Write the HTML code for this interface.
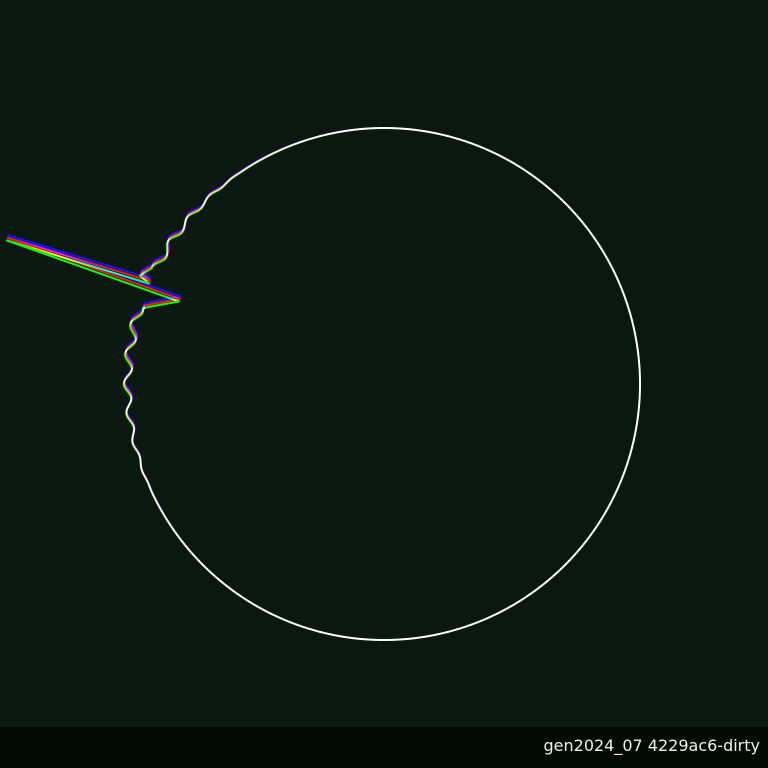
<!DOCTYPE html>
<html><head><meta charset="utf-8">
<style>
html,body{margin:0;padding:0;background:#0a1810;width:768px;height:768px;overflow:hidden}
#footer{position:absolute;left:0;top:727px;width:768px;height:41px;background:#020a04}
#label{position:absolute;right:8px;top:9px;color:#f0f0f0;font:16px "DejaVu Sans","Liberation Sans",sans-serif}
svg{position:absolute;left:0;top:0}
</style></head>
<body>
<svg id="chart" width="768" height="727"></svg>
<div id="footer"><span id="label">gen2024_07 4229ac6-dirty</span></div>
<script>
const center=[384,384];
const baseRadius=[256];
const waveRange=[124,205];
const waveAmp=[4.5];
const waveCycles=[12];
const spikeAngles=[153,162];
const spikeTip=[[141,273],[150,281],[8,238],[180,299],[152,304]];
const channels=['#0000ff','#ff0000','#00ff00'];
const channelShift=[[0.5,-2.5],[0,0],[-1,2.5]];
const ns='http://www.w3.org/2000/svg';
const svg=document.getElementById('chart');
function pt(deg){
  const t=deg*Math.PI/180;
  let r=baseRadius[0];
  if(deg>waveRange[0]&&deg<waveRange[1]){
    const u=(deg-waveRange[0])/(waveRange[1]-waveRange[0]);
    r+=waveAmp[0]*Math.sin(Math.PI*u)*Math.sin(2*Math.PI*waveCycles[0]*u);
  }
  return [center[0]+r*Math.cos(t),center[1]-r*Math.sin(t)];
}
function weight(deg){const d=deg-158;return Math.exp(-(d/30)*(d/30));}
for(let i=0;i<channels.length;i++){
  const s=channelShift[i];
  let d='';
  const add=(p,w)=>{d+=(d?'L':'M')+(p[0]+s[0]*w).toFixed(2)+','+(p[1]+s[1]*w).toFixed(2);};
  for(let k=0;k<=spikeAngles[0]*2;k++){const a=k/2;add(pt(a),weight(a));}
  for(let j=0;j<spikeTip.length;j++)add(spikeTip[j],1);
  for(let k=spikeAngles[1]*2;k<=720;k++){const a=k/2;add(pt(a),weight(a));}
  const path=document.createElementNS(ns,'path');
  
  
  path.setAttribute('d',d);
  path.setAttribute('fill','none');
  path.setAttribute('stroke',channels[i]);
  path.setAttribute('stroke-width','2');
  path.setAttribute('stroke-linejoin','round');
  path.setAttribute('style','mix-blend-mode:screen');
  svg.appendChild(path);
}
</script>
</body></html>
